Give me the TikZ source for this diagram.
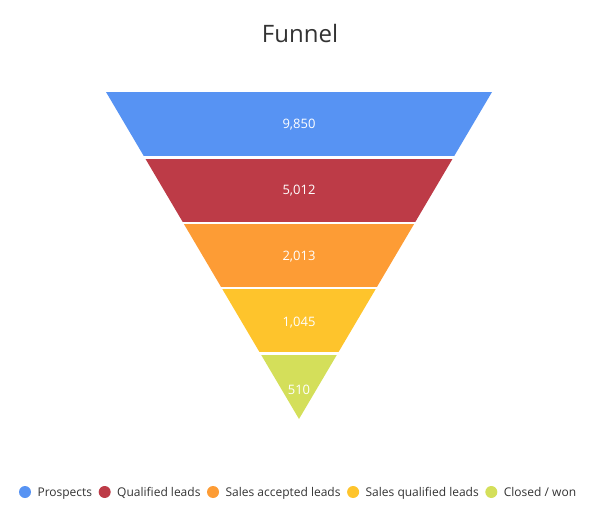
\documentclass[tikz,border=0pt]{standalone}
\usepackage{fontspec}
\setmainfont{Open Sans}
\usetikzlibrary{positioning}
\definecolor{cprosp}{HTML}{5793F3}
\definecolor{cqual}{HTML}{BD3B47}
\definecolor{caccept}{HTML}{FD9C35}
\definecolor{csqual}{HTML}{FEC42C}
\definecolor{cclosed}{HTML}{D4DF5A}
\definecolor{textgray}{HTML}{333333}
\tikzstyle{value} = [text=white, font=\fontsize{9.75}{12}\selectfont]
\tikzstyle{dot} = [circle, minimum size=9pt, inner sep=0pt]
\tikzstyle{entry} = [text=textgray, font=\fontsize{9}{11}\selectfont, inner sep=0pt, text height=1.6ex, text depth=0.4ex]
\tikzstyle{gap} = [draw=white, line width=1.9pt]

\begin{document}
\begin{tikzpicture}[x=0.75pt, y=-0.75pt, node distance=4.5pt]
        \useasboundingbox (0,0) rectangle (600,525);
        \node (title) [text=textgray, font=\fontsize{18}{22}\selectfont] at (300,33) {Funnel};

        % funnel slices
        \foreach \i/\fillc in {0/cprosp, 1/cqual, 2/caccept, 3/csqual, 4/cclosed} {
            \pgfmathsetmacro\ya{92+\i*65.4}
            \pgfmathsetmacro\yb{92+(\i+1)*65.4}
            \pgfmathsetmacro\ha{193*(1-\i/5)}
            \pgfmathsetmacro\hb{193*(1-(\i+1)/5)}
            \fill[\fillc] (299-\ha,\ya) -- (299+\ha,\ya) -- (299+\hb,\yb) -- (299-\hb,\yb) -- cycle;
        }
        \foreach \i in {1,...,4} {
            \pgfmathsetmacro\yc{92+\i*65.4}
            \draw[gap] (90,\yc) -- (510,\yc);
        }

        \node (val1) [value] at (299,125) {9,850};
        \node (val2) [value] at (299,191) {5,012};
        \node (val3) [value] at (299,257) {2,013};
        \node (val4) [value] at (299,323) {1,045};
        \node (val5) [value] at (299,390) {510};

        % legend
        \node (dot1) [dot, fill=cprosp] at (25,492) {};
        \node (lab1) [entry, right=of dot1] {Prospects};
        \node (dot2) [dot, fill=cqual, right=of lab1] {};
        \node (lab2) [entry, right=of dot2] {Qualified leads};
        \node (dot3) [dot, fill=caccept, right=of lab2] {};
        \node (lab3) [entry, right=of dot3] {Sales accepted leads};
        \node (dot4) [dot, fill=csqual, right=of lab3] {};
        \node (lab4) [entry, right=of dot4] {Sales qualified leads};
        \node (dot5) [dot, fill=cclosed, right=of lab4] {};
        \node (lab5) [entry, right=of dot5] {Closed / won};
    \end{tikzpicture}
\end{document}
